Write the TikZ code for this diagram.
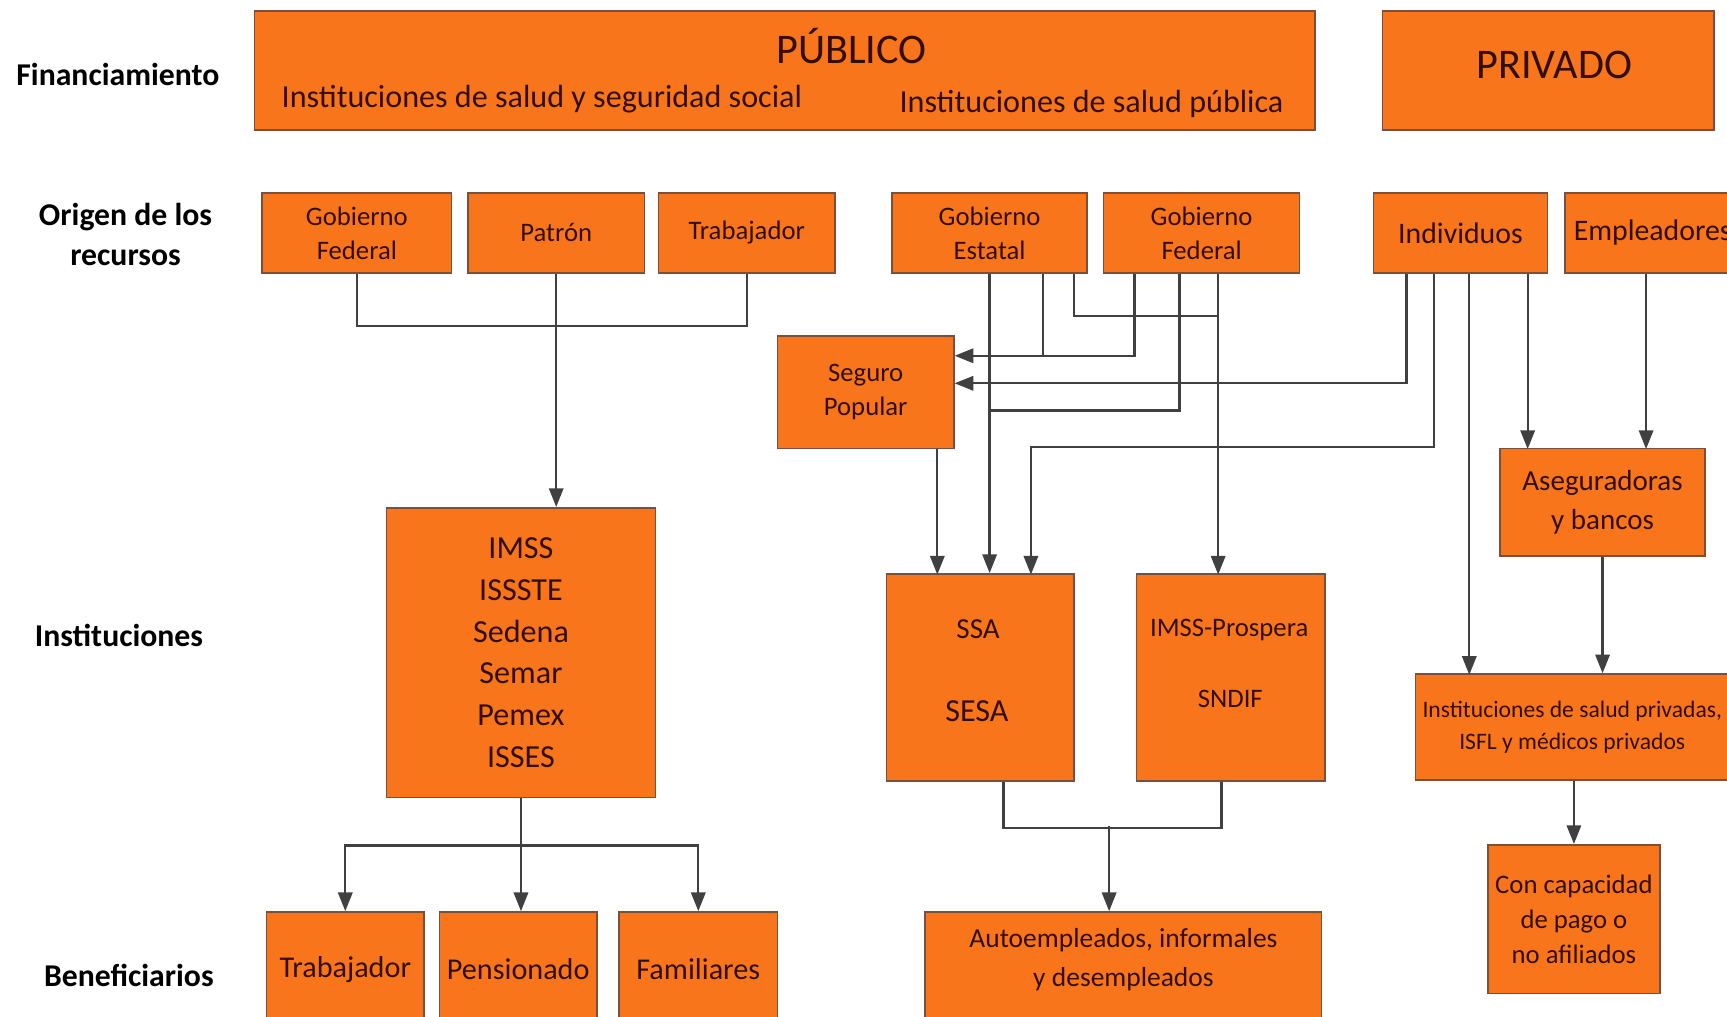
\documentclass[tikz,border=0pt]{standalone}
\usepackage{fontspec}
\setmainfont{Carlito}
\usetikzlibrary{arrows.meta}
\definecolor{orgfill}{RGB}{249,117,27}
\definecolor{orgline}{RGB}{120,80,60}
\definecolor{orgtext}{RGB}{50,15,5}
\definecolor{wirecol}{RGB}{64,64,64}

\begin{document}
\begin{tikzpicture}[y=-1cm,>={Triangle[length=1.7mm,width=1.3mm]}]
\tikzstyle{org}=[rectangle,draw=orgline,line width=0.4pt,fill=orgfill,text=orgtext,align=center,inner sep=0pt]
\tikzstyle{txt}=[text=orgtext,align=center,inner sep=0pt]
\tikzstyle{fila}=[align=center,font=\fontsize{8.2}{10.2}\selectfont\bfseries]
\tikzstyle{orig}=[org,minimum height=0.73cm,font=\fontsize{6.9}{8.8}\selectfont]
\tikzstyle{benef}=[org,minimum width=1.43cm,minimum height=1.04cm,font=\fontsize{7.8}{10}\selectfont]
\tikzstyle{cable}=[draw=wirecol,line width=0.6pt]
\useasboundingbox (0,0) rectangle (15.68,9.23);
\clip (0,0) rectangle (15.68,9.23);

\node[fila](lfin) at (1.07,0.68) {Financiamiento};
\node[fila](lorig) at (1.14,2.13) {Origen de los\\recursos};
\node[fila](linst) at (1.08,5.77) {Instituciones};
\node[fila](lben) at (1.17,8.86) {Beneficiarios};

\node[org,minimum width=9.63cm,minimum height=1.08cm](pub) at (7.125,0.64) {};
\node[txt,font=\fontsize{10.9}{13}\selectfont](pubt) at (7.73,0.42) {PÚBLICO};
\node[txt,font=\fontsize{8.3}{10}\selectfont](puba) at (4.92,0.90) {Instituciones de salud y seguridad social};
\node[txt,font=\fontsize{8.3}{10}\selectfont](pubb) at (9.91,0.94) {Instituciones de salud pública};
\node[org,minimum width=3.01cm,minimum height=1.08cm,font=\fontsize{10.9}{13}\selectfont](priv) at (14.055,0.64) {};
\node[txt,font=\fontsize{10.9}{13}\selectfont](privt) at (14.11,0.59) {PRIVADO};

\node[orig,minimum width=1.72cm](gf1) at (3.24,2.115) {Gobierno\\Federal};
\node[orig,minimum width=1.60cm](pat) at (5.05,2.115) {Patrón};
\node[orig,minimum width=1.60cm](trab) at (6.78,2.115) {Trabajador};
\node[orig,minimum width=1.77cm](ge) at (8.985,2.115) {Gobierno\\Estatal};
\node[orig,minimum width=1.78cm](gf2) at (10.91,2.115) {Gobierno\\Federal};
\node[orig,minimum width=1.58cm,font=\fontsize{7.7}{9}\selectfont](ind) at (13.26,2.115) {Individuos};
\node[orig,minimum width=1.59cm,font=\fontsize{7.7}{9}\selectfont](emp) at (15.005,2.115) {Empleadores};

\node[org,minimum width=1.60cm,minimum height=1.02cm,font=\fontsize{6.9}{8.8}\selectfont](seg) at (7.86,3.56) {Seguro\\Popular};
\node[org,minimum width=2.44cm,minimum height=2.63cm,font=\fontsize{8.3}{10.8}\selectfont](imss) at (4.73,5.925) {IMSS\\ISSSTE\\Sedena\\Semar\\Pemex\\ISSES};
\node[org,minimum width=1.70cm,minimum height=1.88cm](ssa) at (8.90,6.15) {};
\node[txt,font=\fontsize{7.5}{9}\selectfont](ssat) at (8.88,5.71) {SSA};
\node[txt,font=\fontsize{8.3}{10}\selectfont](sesat) at (8.87,6.46) {SESA};
\node[org,minimum width=1.71cm,minimum height=1.88cm](prosp) at (11.175,6.15) {};
\node[txt,font=\fontsize{6.9}{8}\selectfont](prospt) at (11.16,5.72) {IMSS-Prospera};
\node[txt,font=\fontsize{6.9}{8}\selectfont](sndif) at (11.17,6.35) {SNDIF};
\node[org,minimum width=1.86cm,minimum height=0.98cm,font=\fontsize{7.5}{10}\selectfont](aseg) at (14.55,4.56) {Aseguradoras\\y bancos};
\node[org,minimum width=2.85cm,minimum height=0.96cm,font=\fontsize{6.1}{8.25}\selectfont](instpriv) at (14.275,6.60) {Instituciones de salud privadas,\\ISFL y médicos privados};
\node[org,minimum width=1.56cm,minimum height=1.35cm,font=\fontsize{6.9}{9.1}\selectfont](concap) at (14.29,8.345) {Con capacidad\\de pago o\\no afiliados};

\node[benef](b1) at (3.135,8.80) {Trabajador};
\node[benef](b2) at (4.705,8.80) {Pensionado};
\node[benef,minimum width=1.44cm](b3) at (6.34,8.80) {Familiares};
\node[benef,minimum width=3.60cm](auto) at (10.20,8.80) {};
\node[txt,font=\fontsize{7.1}{10}\selectfont](autot) at (10.20,8.71) {Autoempleados, informales\\y desempleados};

% seguridad social
\draw[cable] (gf1.south) -- ++(0,0.47) -| (trab.south);
\draw[cable,->] (pat.south) -- (pat.south |- imss.north);
\draw[cable,->] (imss.south) -- ++(0,0.43) -| (b1.north);
\draw[cable,->] (imss.south) -- ++(0,0.43) -| (b3.north);
\draw[cable,->] (imss.south) -- (imss.south |- b2.north);

% salud publica
\draw[cable,->] (ge.south) -- (ge.south |- ssa.north);
\draw[cable] ([xshift=4.85mm]ge.south) -- ++(0,0.75);
\draw[cable] ([xshift=7.65mm]ge.south) -- ++(0,0.38) -- ++(1.31,0);
\draw[cable,->] ([xshift=-6.1mm]gf2.south) |- ([yshift=3.3mm]seg.east);
\draw[cable] ([xshift=-2mm]gf2.south) -- ++(0,1.24) -- ++(-1.72,0);
\draw[cable,->] ([xshift=1.5mm]gf2.south) -- ++(0,2.73);
\draw[cable,->] ([xshift=6.5mm]seg.south) -- ++(0,1.14);
\draw[cable] ([xshift=2.1mm]ssa.south) -- ++(0,0.42) -- ++(1.98,0) -- ++(0,-0.42);
\draw[cable,<-] ([xshift=-1.3mm]auto.north) -- ++(0,-0.77);

% privado
\draw[cable,->] ([xshift=-4.9mm]ind.south) |- ([yshift=0.8mm]seg.east);
\draw[cable,->] ([xshift=-2.4mm]ind.south) -- ++(0,1.57) -- ++(-3.66,0) -- ++(0,1.16);
\draw[cable,->] ([xshift=0.8mm]ind.south) -- ++(0,3.64);
\draw[cable,->] ([xshift=6.1mm]ind.south) -- ++(0,1.59);
\draw[cable,->] ([xshift=-0.6mm]emp.south) -- ++(0,1.59);
\draw[cable,->] (aseg.south) -- (aseg.south |- instpriv.north);
\draw[cable,->] (instpriv.south -| concap.north) -- (concap.north);

\end{tikzpicture}
\end{document}
